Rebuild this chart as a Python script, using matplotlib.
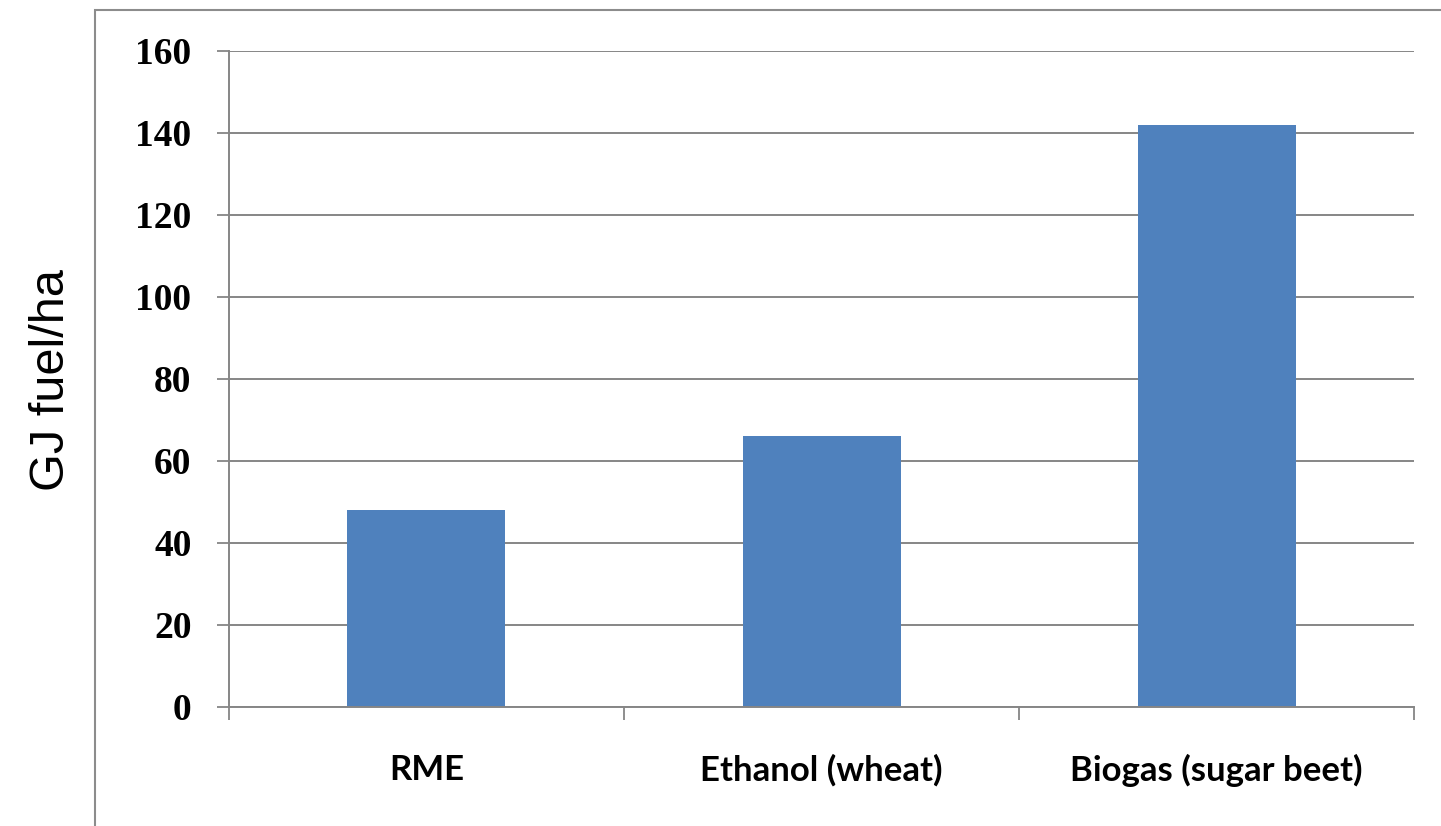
import matplotlib.pyplot as plt
from matplotlib.patches import Rectangle
from matplotlib.ticker import FixedLocator

# GJ of fuel produced per hectare for each biofuel pathway
fuels = ['RME', 'Ethanol (wheat)', 'Biogas (sugar beet)']
gj_per_ha = [48, 66, 142]
y_ticks = [0, 20, 40, 60, 80, 100, 120, 140, 160]

bar_color = '#4F81BD'
line_color = '#868686'

fig = plt.figure(figsize=(14.41, 8.26), dpi=100)
ax = fig.add_axes([0.1589, 0.1441, 0.8224, 0.7942])

x = list(range(len(fuels)))
ax.bar(x, gj_per_ha, width=0.4, color=bar_color, zorder=3)

ax.set_xlim(-0.5, len(fuels) - 0.5)
ax.set_ylim(0, 160)
ax.set_yticks(y_ticks)
ax.set_yticklabels([str(v) for v in y_ticks],
                   fontfamily='Liberation Serif', fontweight='bold', fontsize=27)
ax.yaxis.grid(True, color=line_color, linewidth=1.4, zorder=0)

# category labels sit between the boundary ticks
ax.set_xticks(x)
ax.set_xticklabels(fuels, fontfamily='Lato', fontweight='bold', fontsize=25)
ax.tick_params(axis='x', which='major', length=0, pad=34)
ax.xaxis.set_minor_locator(FixedLocator([i - 0.5 for i in range(len(fuels) + 1)]))
ax.tick_params(axis='x', which='minor', length=9, width=1.3, color=line_color, direction='out')
ax.tick_params(axis='y', length=9, width=1.3, color=line_color, direction='out', pad=18)

for side in ['top', 'right']:
    ax.spines[side].set_visible(False)
for side in ['left', 'bottom']:
    ax.spines[side].set_color(line_color)
    ax.spines[side].set_linewidth(1.4)
    ax.spines[side].set_zorder(4)

fig.text(0.036, 0.54, 'GJ fuel/ha', rotation=90, ha='center', va='center',
         fontfamily='Liberation Sans', fontsize=35)

# outer chart frame, running off the right and bottom edges
frame = Rectangle((95 / 1441, -0.05), 1.1, 0.05 + 1 - 10 / 826,
                  transform=fig.transFigure, fill=False,
                  edgecolor='#8c8c8c', linewidth=1.5, clip_on=False)
fig.patches.append(frame)

fig.savefig('out.png', dpi=100, facecolor='white')
